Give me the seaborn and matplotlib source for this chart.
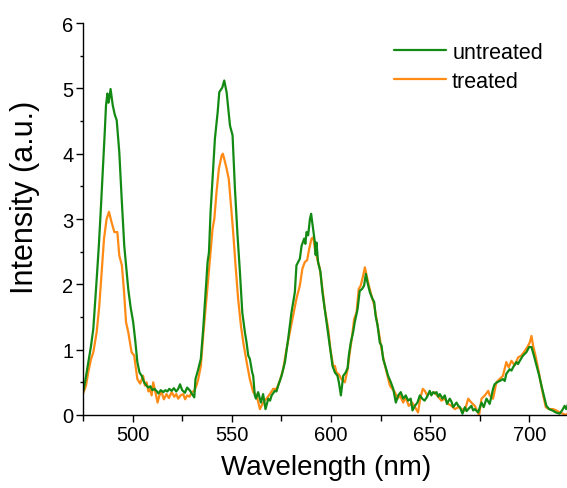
import numpy as np
import pandas as pd
import matplotlib
matplotlib.use("Agg")
import matplotlib.pyplot as plt
from matplotlib.ticker import MultipleLocator
import seaborn as sns

# Emission spectra: wavelength (nm) and intensity (a.u.) for each sample
untreated_wl = [475.2, 476.3, 477.7, 479.0, 480.2, 481.9, 483.0, 483.9, 485.2, 486.0, 486.6, 487.3, 487.8, 488.3,
                488.9, 489.5, 490.0, 491.0, 492.0, 493.3, 494.5, 495.8, 497.8, 499.0, 500.3, 501.3, 502.4, 503.5,
                504.6, 505.8, 507.0, 507.9, 509.0, 510.0, 511.0, 512.0, 513.0, 514.2, 515.5, 516.5, 517.5, 518.5,
                519.7, 520.8, 522.0, 523.0, 523.9, 525.0, 526.4, 527.5, 529.0, 530.0, 531.1, 531.7, 533.1, 534.4,
                535.6, 536.8, 537.8, 538.5, 539.3, 540.3, 541.5, 542.9, 543.7, 544.5, 545.2, 546.2, 547.4, 548.2,
                549.1, 550.4, 551.6, 552.9, 554.1, 555.3, 556.6, 557.5, 558.3, 559.1, 560.3, 560.8, 561.6, 562.2,
                563.3, 564.7, 565.8, 567.0, 568.4, 569.3, 570.1, 571.7, 572.5, 573.4, 575.1, 576.8, 578.4, 580.1,
                581.8, 582.6, 584.3, 585.2, 586.5, 587.1, 587.7, 588.5, 589.4, 590.0, 591.0, 591.9, 592.3, 592.7,
                593.5, 594.7, 595.7, 596.9, 598.0, 599.4, 600.8, 602.0, 603.3, 604.0, 605.0, 606.2, 607.4, 608.4,
                609.0, 610.0, 611.2, 612.0, 613.4, 614.5, 615.7, 616.7, 617.6, 618.4, 619.6, 620.9, 621.8, 622.5,
                623.5, 624.6, 625.5, 626.3, 627.5, 628.8, 630.2, 631.4, 632.7, 633.9, 635.2, 636.4, 637.7, 638.9,
                640.2, 641.1, 642.3, 643.6, 644.8, 646.0, 647.2, 648.5, 649.8, 650.6, 651.5, 652.3, 653.2, 654.1,
                654.9, 656.2, 657.4, 658.5, 659.9, 660.8, 661.6, 663.3, 664.2, 665.0, 666.3, 667.5, 668.4, 669.2,
                670.8, 671.7, 672.5, 674.2, 675.1, 675.9, 677.0, 678.4, 680.0, 681.0, 681.7, 682.5, 683.7, 685.0,
                686.7, 687.6, 688.4, 690.1, 691.0, 691.8, 693.5, 694.3, 695.2, 696.8, 698.5, 699.9, 701.1, 702.3,
                703.6, 705.0, 706.1, 707.3, 708.6, 710.0, 711.6, 713.3, 715.3, 716.5, 717.8, 718.6, 719.5]
untreated_int = [0.37, 0.55, 0.81, 1.05, 1.32, 2.08, 2.60, 3.10, 3.87, 4.35, 4.74, 4.92, 4.78, 4.85,
                 4.99, 4.85, 4.74, 4.60, 4.51, 4.02, 3.31, 2.59, 1.93, 1.65, 1.42, 1.15, 0.81, 0.65,
                 0.60, 0.50, 0.45, 0.42, 0.44, 0.38, 0.40, 0.37, 0.33, 0.38, 0.35, 0.38, 0.36, 0.40,
                 0.37, 0.41, 0.36, 0.40, 0.47, 0.38, 0.34, 0.42, 0.37, 0.32, 0.27, 0.55, 0.70, 0.86,
                 1.32, 1.88, 2.34, 2.49, 3.10, 3.61, 4.23, 4.64, 4.94, 4.98, 5.01, 5.12, 4.94, 4.70,
                 4.43, 4.28, 3.46, 2.75, 2.19, 1.57, 1.27, 1.10, 0.91, 0.86, 0.65, 0.60, 0.30, 0.25,
                 0.35, 0.19, 0.32, 0.09, 0.25, 0.22, 0.30, 0.37, 0.36, 0.45, 0.60, 0.81, 1.16, 1.57,
                 1.88, 2.29, 2.39, 2.59, 2.70, 2.62, 2.80, 2.75, 3.00, 3.08, 2.85, 2.64, 2.45, 2.64,
                 2.34, 2.19, 1.88, 1.62, 1.37, 1.06, 0.75, 0.65, 0.60, 0.50, 0.30, 0.60, 0.65, 0.72,
                 0.91, 1.11, 1.27, 1.42, 1.62, 1.90, 1.93, 1.98, 2.16, 2.03, 1.88, 1.78, 1.73, 1.52,
                 1.37, 1.11, 1.06, 0.86, 0.74, 0.60, 0.50, 0.40, 0.19, 0.30, 0.35, 0.25, 0.30, 0.22,
                 0.25, 0.07, 0.14, 0.19, 0.30, 0.25, 0.22, 0.28, 0.37, 0.30, 0.35, 0.33, 0.35, 0.28,
                 0.32, 0.25, 0.30, 0.17, 0.25, 0.20, 0.12, 0.19, 0.14, 0.12, 0.02, 0.12, 0.06, 0.09,
                 0.14, 0.07, 0.09, 0.04, 0.12, 0.19, 0.12, 0.25, 0.17, 0.30, 0.40, 0.47, 0.50, 0.52,
                 0.55, 0.52, 0.63, 0.70, 0.68, 0.73, 0.81, 0.78, 0.83, 0.91, 0.96, 1.04, 1.04, 0.91,
                 0.76, 0.60, 0.45, 0.30, 0.14, 0.09, 0.07, 0.04, 0.02, 0.07, 0.14, 0.09, 0.17]

treated_wl = [475.2, 476.5, 477.7, 479.0, 480.2, 481.9, 483.2, 484.4, 485.6, 486.9, 488.1, 489.4, 490.8, 492.3,
              493.3, 494.6, 495.7, 496.7, 497.8, 499.5, 500.8, 502.4, 503.8, 505.3, 506.2, 507.1, 508.0, 508.8,
              509.6, 510.4, 511.5, 512.6, 513.5, 514.6, 515.8, 517.1, 518.3, 519.7, 521.0, 522.0, 523.0, 524.2,
              525.5, 526.5, 527.5, 528.7, 529.8, 531.1, 532.2, 533.1, 534.4, 535.6, 536.8, 538.1, 539.3, 540.3,
              541.2, 542.3, 543.5, 544.9, 545.5, 546.2, 547.4, 548.5, 549.6, 550.7, 551.9, 553.2, 554.6, 555.8,
              557.5, 559.1, 560.8, 562.5, 564.2, 565.8, 567.5, 569.2, 570.9, 572.6, 574.2, 575.9, 577.6, 579.3,
              580.9, 582.6, 584.3, 585.6, 586.8, 588.0, 589.0, 590.2, 591.1, 591.9, 593.1, 594.4, 595.7, 596.9,
              598.6, 599.7, 601.1, 602.0, 602.8, 604.0, 605.3, 607.0, 608.4, 609.5, 610.7, 611.7, 612.9, 614.0,
              615.0, 616.2, 617.1, 618.0, 619.1, 620.4, 621.8, 623.0, 624.1, 625.5, 626.8, 628.5, 629.7, 630.9,
              632.2, 633.6, 634.8, 636.4, 637.7, 639.2, 640.9, 642.0, 643.9, 645.0, 646.3, 647.3, 648.5, 649.5,
              650.7, 652.0, 653.5, 655.7, 657.4, 659.1, 660.8, 662.5, 664.2, 665.9, 667.5, 669.2, 670.8, 672.5,
              674.7, 675.9, 677.6, 679.3, 680.0, 681.7, 683.4, 685.0, 686.7, 688.4, 689.6, 691.0, 692.6, 694.3,
              696.0, 697.7, 699.0, 700.2, 701.1, 701.9, 703.1, 704.5, 705.7, 707.0, 708.3, 710.0, 712.0, 713.6,
              715.3, 716.9, 718.6, 719.5]
treated_int = [0.34, 0.45, 0.66, 0.85, 0.96, 1.27, 1.67, 2.19, 2.70, 3.00, 3.11, 2.95, 2.80, 2.80,
               2.44, 2.29, 1.88, 1.42, 1.27, 0.96, 0.91, 0.55, 0.48, 0.60, 0.45, 0.50, 0.36, 0.40,
               0.30, 0.50, 0.35, 0.19, 0.30, 0.35, 0.24, 0.32, 0.26, 0.35, 0.28, 0.32, 0.25, 0.30,
               0.32, 0.24, 0.30, 0.28, 0.35, 0.37, 0.45, 0.55, 0.75, 1.22, 1.63, 2.08, 2.49, 2.85,
               3.00, 3.41, 3.77, 3.97, 4.00, 3.92, 3.77, 3.61, 3.20, 2.80, 2.29, 1.78, 1.37, 1.11,
               0.81, 0.55, 0.35, 0.30, 0.09, 0.19, 0.25, 0.32, 0.40, 0.40, 0.52, 0.70, 1.01, 1.27,
               1.52, 1.78, 1.98, 2.24, 2.34, 2.37, 2.54, 2.70, 2.72, 2.54, 2.39, 2.24, 1.93, 1.62,
               1.32, 1.01, 0.75, 0.75, 0.65, 0.62, 0.55, 0.50, 0.70, 0.96, 1.22, 1.47, 1.57, 1.93,
               1.98, 2.13, 2.26, 2.13, 1.98, 1.83, 1.68, 1.47, 1.27, 1.01, 0.81, 0.60, 0.45, 0.40,
               0.35, 0.25, 0.30, 0.19, 0.27, 0.14, 0.19, 0.14, 0.04, 0.25, 0.40, 0.37, 0.30, 0.34,
               0.32, 0.35, 0.30, 0.22, 0.25, 0.17, 0.14, 0.09, 0.12, 0.09, 0.07, 0.25, 0.19, 0.14,
               0.00, 0.25, 0.30, 0.37, 0.30, 0.25, 0.50, 0.55, 0.60, 0.81, 0.73, 0.83, 0.76, 0.88,
               0.91, 0.98, 1.04, 1.11, 1.21, 1.06, 0.91, 0.70, 0.50, 0.30, 0.12, 0.09, 0.09, 0.07,
               0.04, 0.02, 0.00, 0.03]

series_names = ["untreated", "treated"]
series_colors = {"untreated": "#138a13", "treated": "#ff8a14"}

df = pd.concat([
    pd.DataFrame({"Wavelength": untreated_wl, "Intensity": untreated_int, "Sample": "untreated"}),
    pd.DataFrame({"Wavelength": treated_wl, "Intensity": treated_int, "Sample": "treated"}),
], ignore_index=True)

sns.set_theme(style="ticks")
plt.rcParams["font.family"] = ["Liberation Sans", "DejaVu Sans"]
plt.rcParams["text.color"] = "black"

fig = plt.figure(figsize=(5.67, 4.89), dpi=100)
ax = fig.add_axes([83 / 567, 73 / 489, 486 / 567, 392 / 489])

# treated underneath, untreated on top
for name in ["treated", "untreated"]:
    sns.lineplot(data=df[df["Sample"] == name], x="Wavelength", y="Intensity",
                 color=series_colors[name], linewidth=1.6, sort=False,
                 estimator=None, label=name, ax=ax)

ax.set_xlim(475, 720)
ax.set_ylim(0, 6)
ax.xaxis.set_major_locator(MultipleLocator(50))
ax.xaxis.set_minor_locator(MultipleLocator(25))
ax.yaxis.set_major_locator(MultipleLocator(1))
ax.yaxis.set_minor_locator(MultipleLocator(0.5))
ax.tick_params(which="major", direction="out", length=5, width=1, labelsize=14.5,
               color="black", labelcolor="black", pad=2)
ax.tick_params(which="minor", direction="out", length=2.5, width=1, color="black")
ax.tick_params(axis="x", which="minor", length=4)
for side in ["top", "right"]:
    ax.spines[side].set_visible(False)
for side in ["left", "bottom"]:
    ax.spines[side].set_color("black")
    ax.spines[side].set_linewidth(1)

ax.set_xlabel("")
ax.set_ylabel("")
fig.text(326 / 567, 1 - 468 / 489, "Wavelength (nm)", ha="center", va="center",
         fontsize=20, color="black")
fig.text(25 / 567, 1 - 197 / 489, "Intensity (a.u.)", ha="center", va="center",
         rotation=90, fontsize=22, color="black")

handles, labels = ax.get_legend_handles_labels()
order = [labels.index(n) for n in series_names]
leg = ax.legend([handles[i] for i in order], [labels[i] for i in order],
                loc="upper left", bbox_to_anchor=(394 / 567, 1 - 43 / 489),
                bbox_transform=fig.transFigure, frameon=False, fontsize=15.5,
                handlelength=2.4, handletextpad=0.3, labelspacing=0.36,
                borderaxespad=0, borderpad=0)
for t in leg.get_texts():
    t.set_color("black")

fig.savefig("out.png", dpi=100)
